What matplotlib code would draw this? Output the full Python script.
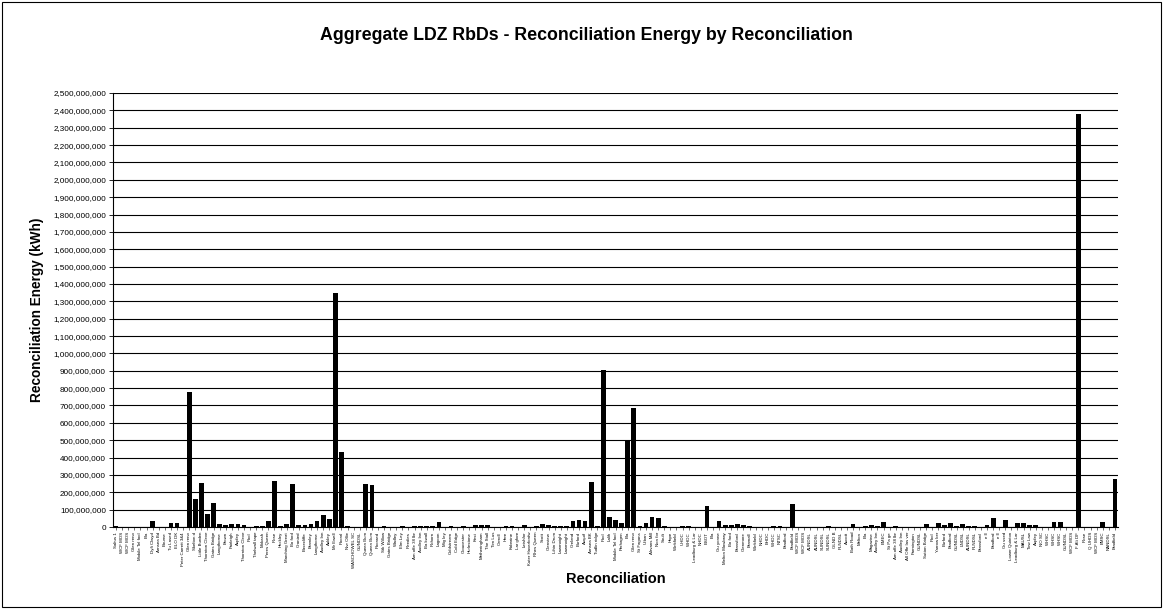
import matplotlib
matplotlib.use("Agg")
import matplotlib.pyplot as plt
from matplotlib.ticker import FuncFormatter, MultipleLocator
from matplotlib.patches import Rectangle

plt.rcParams['font.family'] = ['Liberation Sans', 'DejaVu Sans']

# reconciliation names (x categories)
names = [
    'Saltus 1', 'WCF MOS', 'WCF MOS', 'Glen reno', 'Mobile Tel fool', 'Bia',
    'Dyfi Clwyd', 'Arnsea Bd', 'Bourne', 'Tu Lased', 'ELO DK', 'Peter Carrett 3&4',
    'Glen reno', 'Skelton d', 'Little Burden', 'Thornton Cleve', 'Gates Bridge',
    'Langthorne', 'Brown', 'Fairleigh', 'Aspley', 'Thornton Cleve', 'Pool',
    'Thelwall tape', 'Mokash', 'Peres Queen', 'Rose', 'Hockley', 'Marching Great',
    'Bo ford', 'Granted', 'Basecliffe', 'Bramley', 'Langthorne', 'Audley Inn',
    'Aukley', 'Mr Ewell', 'Pooral', 'Nvr Ollie', 'WASCHOWEL SC', 'GUNDSL',
    'Queen Burn', 'Queen Burn', 'Pooraed', 'Stk Willow', 'Gates Bridge', 'Wadley',
    'Elm Ley', 'Reedies', 'Am offe 38 lbr', 'Audley Inn', 'Ba kwall', 'Rohorn',
    'Lagoon', 'Mig ley', 'Coldstream', 'Cold Edge', 'Gloucester', 'Hurlestone',
    'Kest', 'Metheringham', 'The Stall', 'Tim Lus', 'Carroll', 'Hare', 'Kobraine',
    'Lar gfore', 'Leishfor', 'Kuter Haverfordw', 'Rhes Queen', 'Scott', 'Glenview',
    'Lihin Drum', 'Lawmoight', 'Lawmoight', 'Greland', 'Burford', 'Asquif',
    'Arnsea BK', 'Tudlin ridge', 'Pool', 'Lalih', 'Mobile Tel fool', 'Perhagen',
    'Bia', 'Glen reno', 'St Fagans', 'Urban', 'Alrvans Mill', 'Non for', 'Soult',
    'Hope', 'Winkfield', 'UHDC', 'WHDC', 'Leadburg & Lar', 'NHDC', 'ESOT', 'Bia',
    'Gu yonne', 'Melton Mowbray', 'Bo ford', 'Bransford', 'Glenmore', 'Bramall',
    'Winkfield', 'NHDC', 'EHDC', 'WHDC', 'NTSC', 'Bradford', 'Bradfield',
    'WCF MOS', 'WCF MOS', 'AUNDSL', 'AUNDSL', 'SUNDSL', 'SUNDSL', 'GLND B',
    'PLNDSL', 'Ascott', 'Bath Road', 'Melton', 'Bia', 'Magazine', 'Audley Inn',
    'EMEC', 'St Pa ge', 'Am offe 38 lbr', 'Audley Inn', 'All Offe las ver',
    'Farmington', 'GUNDSL', 'Sutton Bridge', 'Pool', 'Yarrow ker', 'Burford',
    'Bradford', 'GUNDSL', 'LNDSL', 'AUNDSL', 'PLNDSL', 'Bransford', 'e ll',
    'Bradford', 'e ll', 'Gu ssed', 'Lower Quinton', 'Leadburg & Lar', 'MAUSL',
    'Tow Law', 'Aspley', 'NO SC', 'WHSC', 'WHSC', 'WHSC', 'GUNDSL', 'WCF MOS',
    'F Alt DF', 'Rose', 'Q UHDS', 'WCF MOS', 'BMSC', 'NANDSL', 'Bradfield',
]

# energy in millions of kWh
energy_m = [
    8, 0, 0, 0, 0, 0, 33, 0, 0, 22, 24, 0, 776, 159, 251, 77, 136, 18, 9, 15,
    19, 11, 3, 5, 6, 36, 268, 7, 19, 249, 12, 12, 16, 33, 69, 45, 1350, 431, 4, 0,
    0, 245, 243, 0, 6, 0, 0, 4, 0, 4, 4, 4, 5, 27, 0, 6, 0, 6, 0, 13,
    13, 10, 0, 0, 6, 7, 0, 13, 0, 5, 15, 9, 7, 7, 7, 33, 38, 37, 258, 7,
    905, 56, 43, 22, 495, 688, 7, 25, 58, 53, 5, 0, 0, 4, 5, 0, 0, 120, 0, 32,
    10, 14, 15, 9, 6, 0, 0, 0, 4, 6, 0, 130, 0, 0, 0, 0, 0, 7, 0, 0,
    0, 17, 0, 6, 13, 6, 27, 0, 5, 0, 0, 0, 0, 15, 0, 25, 12, 22, 8, 20,
    8, 8, 0, 10, 52, 0, 42, 0, 25, 25, 13, 10, 0, 0, 27, 27, 0, 0, 2380, 0,
    0, 0, 30, 0, 275,
]

energy = [v * 1e6 for v in energy_m]
x = list(range(len(names)))

fig = plt.figure(figsize=(11.63, 6.09), dpi=100)
fig.patches.append(Rectangle((0.002, 0.003), 0.996, 0.994, transform=fig.transFigure,
                             fill=False, edgecolor='black', linewidth=0.8))
ax = fig.add_axes([0.0972, 0.1346, 0.8641, 0.7127])

ax.bar(x, energy, width=0.78, color='black', zorder=3)

ax.set_xlim(-0.5, len(names) - 0.5)
ax.set_ylim(0, 2.5e9)
ax.yaxis.set_major_locator(MultipleLocator(1e8))
ax.yaxis.set_major_formatter(FuncFormatter(lambda v, p: f'{int(v):,}'))
ax.grid(axis='y', color='black', linewidth=0.8, zorder=1)

ax.set_xticks(x)
ax.set_xticklabels(names, rotation=90, fontsize=3.2)
ax.tick_params(axis='y', labelsize=5.9, length=3, width=0.6, pad=2)
ax.tick_params(axis='x', length=2, width=0.4, pad=1.5)

for s in ['top', 'right']:
    ax.spines[s].set_visible(False)
ax.spines['left'].set_linewidth(0.8)
ax.spines['bottom'].set_linewidth(0.8)

fig.text(0.504, 0.942, 'Aggregate LDZ RbDs - Reconciliation Energy by Reconciliation',
         fontsize=12.8, fontweight='bold', ha='center', va='center')
ax.set_xlabel('Reconciliation', fontsize=10.5, fontweight='bold', labelpad=3)
ax.set_ylabel('Reconciliation Energy (kWh)', fontsize=9.8, fontweight='bold', labelpad=7)

fig.savefig('out.png', dpi=100)
